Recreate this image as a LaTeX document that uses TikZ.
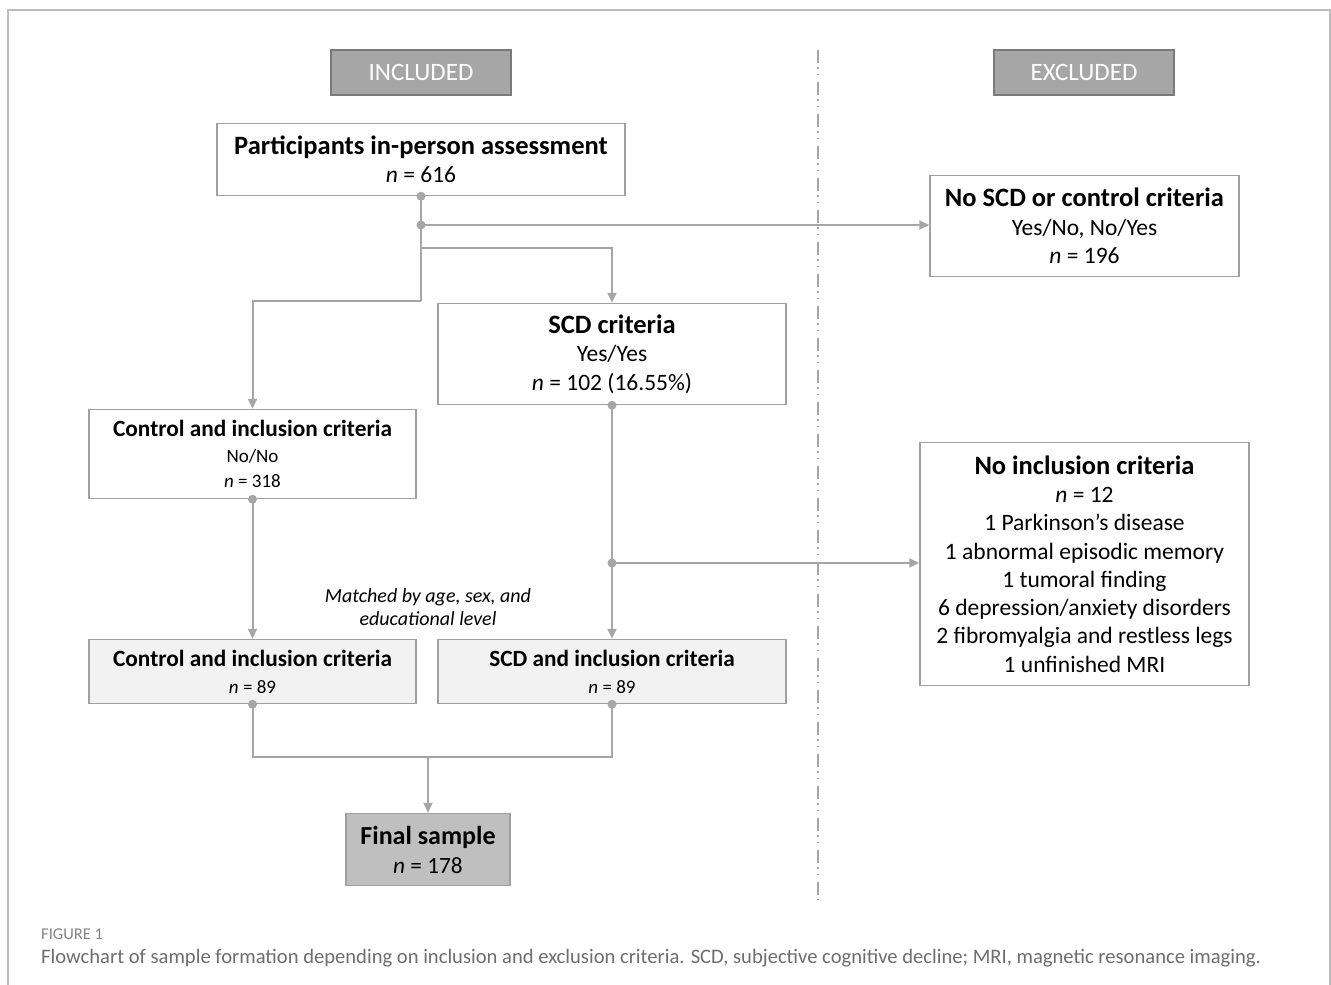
\documentclass[tikz,border=0pt]{standalone}
\usepackage{fontspec}
\setmainfont{Carlito}
\usetikzlibrary{arrows.meta}
\definecolor{boxgray}{HTML}{A0A0A0}
\definecolor{linegray}{HTML}{A6A6A6}
\definecolor{hdrfill}{HTML}{A6A6A6}
\definecolor{hdrdraw}{HTML}{7A7A7A}
\definecolor{lightfill}{HTML}{F2F2F2}
\definecolor{finalfill}{HTML}{BFBFBF}
\definecolor{capgray}{HTML}{6E6E6E}
\begin{document}
\begin{tikzpicture}[x=1pt,y=-1pt,
  box/.style={draw=boxgray, line width=1.5pt, inner sep=0pt, align=center,
    font=\fontsize{23.5}{28.5}\selectfont},
  hdr/.style={draw=hdrdraw, fill=hdrfill, line width=1.5pt, inner sep=0pt,
    minimum width=180pt, minimum height=45pt, text=white,
    font=\fontsize{25}{28}\selectfont},
  conn/.style={draw=linegray, line width=2pt},
  arr/.style={conn, -{Triangle[length=10pt,width=9pt]}},
  dotc/.style={circle, fill=linegray, inner sep=0pt, minimum size=9pt}]
\useasboundingbox (0,0) rectangle (1331,985);
\fill[white] (0,0) rectangle (1331,985);
% frame
\draw[draw=boxgray!70, line width=1.2pt] (8,985) -- (8,10) -- (1330,10) -- (1330,985);
% separator
\draw[draw=linegray, line width=1.5pt, dash pattern=on 13pt off 4pt on 1.5pt off 5pt on 1.5pt off 7pt] (818,50) -- (818,900);
% headers
\node[hdr] (inc) at (421,72.5) {INCLUDED};
\node[hdr] (exc) at (1084,72.5) {EXCLUDED};
% boxes
\node[box, minimum width=408pt, minimum height=72pt] (part) at (421,159.5)
  {{\fontsize{26.5}{29}\selectfont\bfseries Participants in-person assessment}\\ \textit{n} = 616};
\node[box, minimum width=309pt, minimum height=101pt] (nosc) at (1084.5,226)
  {{\fontsize{26.5}{29}\selectfont\bfseries No SCD or control criteria}\\ Yes/No, No/Yes\\ \textit{n} = 196};
\node[box, minimum width=348pt, minimum height=101pt] (scd) at (612,354)
  {{\fontsize{26.5}{29}\selectfont\bfseries SCD criteria}\\ Yes/Yes\\ \textit{n} = 102 (16.55\%)};
\node[box, minimum width=327pt, minimum height=89pt, font=\fontsize{19}{25.5}\selectfont] (ctrl) at (252.5,454)
  {{\fontsize{23.3}{25.5}\selectfont\bfseries Control and inclusion criteria}\\ No/No\\ \textit{n} = 318};
\node[box, minimum width=329pt, minimum height=243pt, font=\fontsize{23.5}{28.3}\selectfont] (noinc) at (1084.5,564)
  {{\fontsize{26.5}{28.3}\selectfont\bfseries No inclusion criteria}\\ \textit{n} = 12\\ 1 Parkinson’s disease\\ 1 abnormal episodic memory\\ 1 tumoral finding\\ 6 depression/anxiety disorders\\ 2 fibromyalgia and restless legs\\ 1 unfinished MRI};
\node[box, fill=lightfill, minimum width=327pt, minimum height=64pt, font=\fontsize{19}{27}\selectfont] (ctrl2) at (252.5,671.5)
  {{\fontsize{23.3}{27}\selectfont\bfseries Control and inclusion criteria}\\ \textit{n} = 89};
\node[box, fill=lightfill, minimum width=348pt, minimum height=64pt, font=\fontsize{19}{27}\selectfont] (scd2) at (612,671.5)
  {{\fontsize{23.3}{27}\selectfont\bfseries SCD and inclusion criteria}\\ \textit{n} = 89};
\node[box, fill=finalfill, minimum width=164pt, minimum height=72pt, font=\fontsize{23.3}{29}\selectfont] (final) at (428,849.5)
  {{\fontsize{26}{29}\selectfont\bfseries Final sample}\\ \textit{n} = 178};
\node[font=\fontsize{20}{23}\selectfont\itshape, align=center] (match) at (428,607.5)
  {Matched by age, sex, and\\ educational level};
% junction coordinates
\coordinate (j1) at (421,225);
\coordinate (j2) at (421,248);
\coordinate (j3) at (421,301);
\coordinate (j4) at (612,563);
\coordinate (j5) at (428,757);
% connectors
\draw[conn] (part.south) -- (j1);
\draw[arr] (j1) -- (nosc.west |- j1);
\draw[conn] (j1) -- (j3);
\draw[arr] (j2) -| (scd.north);
\draw[arr] (j3) -| (ctrl.north);
\draw[arr] (scd.south) -- (scd2.north);
\draw[arr] (j4) -- (noinc.west |- j4);
\draw[arr] (ctrl.south) -- (ctrl2.north);
\draw[conn] (ctrl2.south) |- (j5);
\draw[conn] (scd2.south) |- (j5);
\draw[arr] (j5) -- (final.north);
% dots
\node[dotc] (d1) at (part.south) {};
\node[dotc] (d2) at (j1) {};
\node[dotc] (d3) at (scd.south) {};
\node[dotc] (d4) at (j4) {};
\node[dotc] (d5) at (ctrl.south) {};
\node[dotc] (d6) at (ctrl2.south) {};
\node[dotc] (d7) at (scd2.south) {};
% caption
\node[anchor=base west, text=capgray!85, font=\fontsize{16.5}{18}\selectfont, inner sep=0pt] (figlab) at (41,939) {FIGURE 1};
\node[anchor=base west, text=capgray, font=\fontsize{20.6}{24}\selectfont, inner sep=0pt] (cap) at (41,963) {Flowchart of sample formation depending on inclusion and exclusion criteria. SCD, subjective cognitive decline; MRI, magnetic resonance imaging.};
\end{tikzpicture}
\end{document}
